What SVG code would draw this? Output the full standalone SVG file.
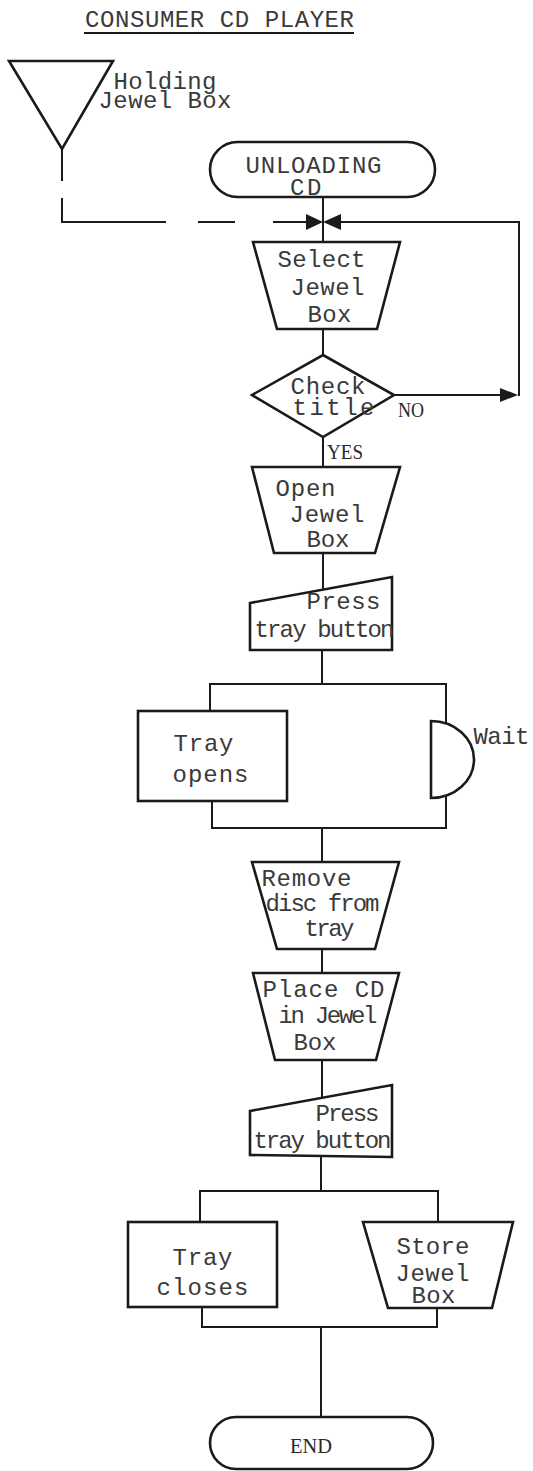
<svg xmlns="http://www.w3.org/2000/svg" width="533" height="1471" viewBox="0 0 533 1471">
<style>
.bg{fill:#ffffff}
.shape{fill:#ffffff;stroke:#1a1a1a;stroke-width:2.6;stroke-linejoin:miter}
.ln{fill:none;stroke:#1a1a1a;stroke-width:2}
.ah{fill:#1a1a1a;stroke:none}
.t{font-family:"Liberation Mono","Courier New",monospace;font-size:24px;fill:#3a3a3a}
.s{font-family:"Liberation Serif","Times New Roman",serif;font-size:20px;fill:#2a2a2a}
</style>
<rect class="bg" x="0" y="0" width="533" height="1471"/>

<g id="title">
  <text class="t" x="85" y="26.5" textLength="269" lengthAdjust="spacing">CONSUMER CD PLAYER</text>
  <path class="ln" d="M84,33 H354" stroke-width="1.6"/>
</g>

<g id="connectors">
  <path class="ln" d="M62,149 V181"/>
  <path class="ln" d="M62,198 V222 H166"/>
  <path class="ln" d="M198,222 H235"/>
  <path class="ln" d="M273,222 H308"/>
  <path class="ln" d="M323,197 V242"/>
  <path class="ln" d="M323,329 V355"/>
  <path class="ln" d="M323,437 V467"/>
  <path class="ln" d="M323,553 V590"/>
  <path class="ln" d="M322,650 V684"/>
  <path class="ln" d="M210,711 V684 H446 V724"/>
  <path class="ln" d="M212,801 V828 H446 V795"/>
  <path class="ln" d="M322,828 V862"/>
  <path class="ln" d="M322,949 V973"/>
  <path class="ln" d="M322,1060 V1098"/>
  <path class="ln" d="M321,1156 V1191"/>
  <path class="ln" d="M200,1222 V1191 H438 V1222"/>
  <path class="ln" d="M202,1307 V1327 H437 V1308"/>
  <path class="ln" d="M321,1327 V1417"/>
  <path class="ln" d="M394,395 H503"/>
  <path class="ln" d="M340,222 H519 V396"/>
  <polygon class="ah" points="500,388 518,395 500,402"/>
  <polygon class="ah" points="306,214 323,222 306,230"/>
  <polygon class="ah" points="341,214 323,222 341,230"/>
  <text class="s" x="398" y="417" textLength="26" lengthAdjust="spacingAndGlyphs">NO</text>
  <text class="s" x="327" y="459" textLength="36" lengthAdjust="spacingAndGlyphs">YES</text>
</g>

<g id="holding">
  <polygon class="shape" points="9,61 113,61 62,149" stroke-width="3"/>
  <text class="t" x="113.5" y="89" textLength="103" lengthAdjust="spacing">Holding</text>
  <text class="t" x="98.5" y="108" textLength="133" lengthAdjust="spacing">Jewel Box</text>
</g>

<g id="unloading">
  <rect class="shape" x="210" y="142" width="225" height="55" rx="27.5" ry="27.5"/>
  <text class="t" x="245.5" y="173" textLength="136" lengthAdjust="spacing">UNLOADING</text>
  <text class="t" x="290" y="195" textLength="31.5" lengthAdjust="spacing">CD</text>
</g>

<g id="select">
  <polygon class="shape" points="253,242 400,242 377,329 277,329"/>
  <text class="t" x="277.5" y="267" textLength="88" lengthAdjust="spacing">Select</text>
  <text class="t" x="290.5" y="295" textLength="74" lengthAdjust="spacing">Jewel</text>
  <text class="t" x="307.5" y="322" textLength="44" lengthAdjust="spacing">Box</text>
</g>

<g id="check">
  <polygon class="shape" points="323,355 394,395 323,437 252,395"/>
  <text class="t" x="290.5" y="394" textLength="75" lengthAdjust="spacing">Check</text>
  <text class="t" x="292.5" y="415" textLength="82" lengthAdjust="spacing">title</text>
</g>

<g id="open">
  <polygon class="shape" points="252,467 400,467 375,553 274,553"/>
  <text class="t" x="275.5" y="496" textLength="60" lengthAdjust="spacing">Open</text>
  <text class="t" x="289.5" y="522" textLength="75" lengthAdjust="spacing">Jewel</text>
  <text class="t" x="306.5" y="547" textLength="43" lengthAdjust="spacing">Box</text>
</g>

<g id="press1">
  <polygon class="shape" points="250,603 392,577 392,650 250,650"/>
  <text class="t" x="306.5" y="609" textLength="74" lengthAdjust="spacing">Press</text>
  <text class="t" x="254.5" y="637" textLength="140" lengthAdjust="spacing">tray button</text>
</g>

<g id="trayopens">
  <rect class="shape" x="138" y="711" width="149" height="90"/>
  <text class="t" x="173.5" y="751" textLength="60" lengthAdjust="spacing">Tray</text>
  <text class="t" x="172.5" y="782" textLength="76" lengthAdjust="spacing">opens</text>
</g>

<g id="wait">
  <path class="shape" d="M431,721 A43,38.5 0 0 1 431,798 Z"/>
  <text class="t" x="473.5" y="744" textLength="56" lengthAdjust="spacing">Wait</text>
</g>

<g id="remove">
  <polygon class="shape" points="252,862 399,862 375,949 277,949"/>
  <text class="t" x="261.5" y="886" textLength="90" lengthAdjust="spacing">Remove</text>
  <text class="t" x="265.5" y="911" textLength="114" lengthAdjust="spacing">disc from</text>
  <text class="t" x="304.5" y="936" textLength="50" lengthAdjust="spacing">tray</text>
</g>

<g id="place">
  <polygon class="shape" points="253,973 399,973 376,1060 275,1060"/>
  <text class="t" x="262.5" y="997" textLength="122" lengthAdjust="spacing">Place CD</text>
  <text class="t" x="278.5" y="1023" textLength="99" lengthAdjust="spacing">in Jewel</text>
  <text class="t" x="293.5" y="1050" textLength="43" lengthAdjust="spacing">Box</text>
</g>

<g id="press2">
  <polygon class="shape" points="250,1111 392,1085 392,1157 250,1155"/>
  <text class="t" x="315.5" y="1121" textLength="64" lengthAdjust="spacing">Press</text>
  <text class="t" x="253.5" y="1148" textLength="138" lengthAdjust="spacing">tray button</text>
</g>

<g id="traycloses">
  <rect class="shape" x="128" y="1222" width="149" height="85"/>
  <text class="t" x="172.5" y="1265" textLength="60" lengthAdjust="spacing">Tray</text>
  <text class="t" x="156.5" y="1295" textLength="92" lengthAdjust="spacing">closes</text>
</g>

<g id="store">
  <polygon class="shape" points="363,1222 513,1222 492,1308 388,1308"/>
  <text class="t" x="396.5" y="1254" textLength="73" lengthAdjust="spacing">Store</text>
  <text class="t" x="395.5" y="1281" textLength="74" lengthAdjust="spacing">Jewel</text>
  <text class="t" x="411.5" y="1303" textLength="44" lengthAdjust="spacing">Box</text>
</g>

<g id="end">
  <rect class="shape" x="210" y="1417" width="223" height="52" rx="26" ry="26"/>
  <text class="s" x="290" y="1453" textLength="42" lengthAdjust="spacingAndGlyphs" font-size="21">END</text>
</g>
</svg>
